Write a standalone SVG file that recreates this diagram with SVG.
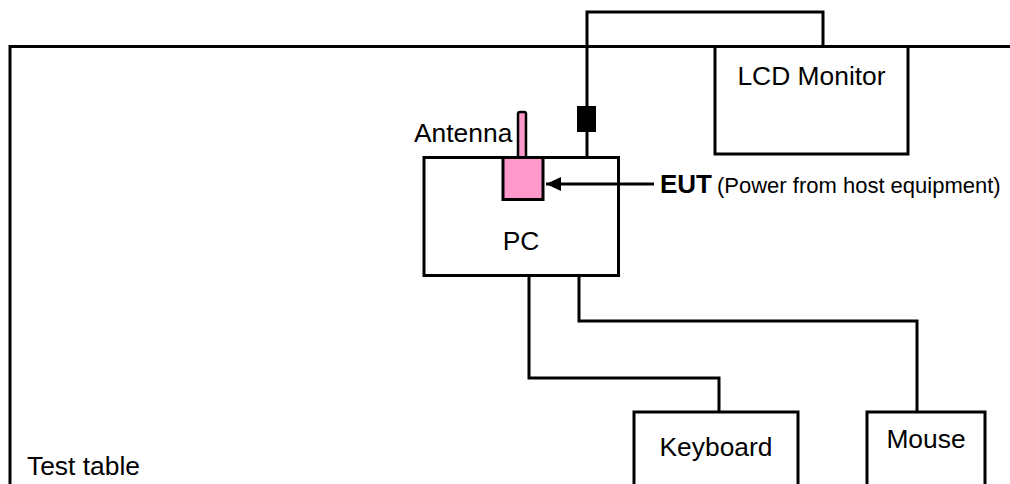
<svg xmlns="http://www.w3.org/2000/svg" width="1010" height="484" viewBox="0 0 1010 484">
<defs>
<style>
.box{fill:#fff;stroke:#000;stroke-width:3}
.wire{fill:none;stroke:#000;stroke-width:3}
.t{font-family:"Liberation Sans",Arial,sans-serif;font-size:26.4px;fill:#000}
.s{font-family:"Liberation Sans",Arial,sans-serif;font-size:22px;fill:#000}
.b{font-family:"Liberation Sans",Arial,sans-serif;font-size:26px;font-weight:bold;fill:#000}
.pink{fill:#FF99CC;stroke:#000;stroke-width:3}
</style>
<marker id="arr" markerWidth="16" markerHeight="14" refX="15" refY="7" orient="auto" markerUnits="userSpaceOnUse">
<path d="M0,0 L15,7 L0,14 Z" fill="#000"/>
</marker>
</defs>
<rect width="1010" height="484" fill="#fff"/>
<g id="table">
<path class="wire" d="M10,484 V46.5 H1012"/>
<text class="t" x="27" y="475">Test table</text>
</g>
<g id="lcd">
<rect class="box" x="715" y="46.5" width="193" height="107.5"/>
<text class="t" x="811.5" y="85" text-anchor="middle">LCD Monitor</text>
</g>
<g id="pc">
<rect class="box" x="424" y="157.5" width="194.5" height="118"/>
<text class="t" x="521" y="250" text-anchor="middle">PC</text>
</g>
<g id="antenna">
<rect x="518" y="112" width="8" height="46" rx="2" fill="#FF99CC" stroke="#000" stroke-width="2.5"/>
<text class="t" x="414" y="142">Antenna</text>
</g>
<g id="eut">
<rect class="pink" x="503" y="157.5" width="40" height="42"/>
<text x="660" y="193"><tspan class="b">EUT</tspan><tspan class="s" dx="5">(Power from host equipment)</tspan></text>
</g>
<g id="keyboard">
<rect class="box" x="634" y="412" width="164" height="80"/>
<text class="t" x="716" y="456" text-anchor="middle">Keyboard</text>
</g>
<g id="mouse">
<rect class="box" x="867" y="412" width="118" height="80"/>
<text class="t" x="926" y="448" text-anchor="middle">Mouse</text>
</g>
<g id="connectors">
<path class="wire" d="M587,157 V12 H823 V46"/>
<rect x="577" y="106" width="19" height="26" fill="#000"/>
<path class="wire" d="M529,276 V378 H719 V412"/>
<path class="wire" d="M579,276 V321 H917 V412"/>
<line x1="654" y1="184" x2="546" y2="184" stroke="#000" stroke-width="3" marker-end="url(#arr)"/>
</g>
</svg>
